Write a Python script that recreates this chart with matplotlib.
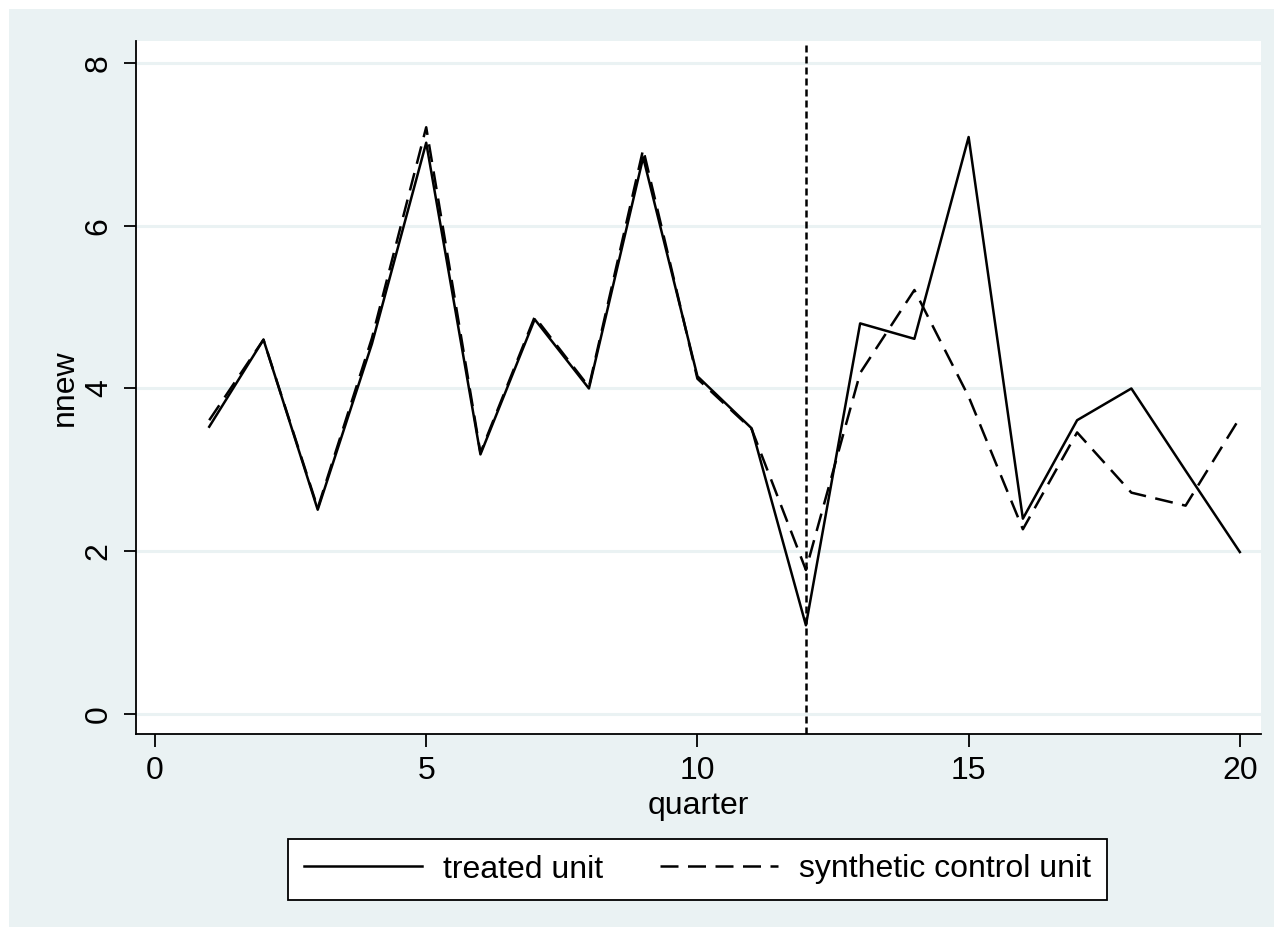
import numpy as np
import matplotlib
matplotlib.use("Agg")
import matplotlib.pyplot as plt
from matplotlib.patches import Rectangle

plt.rcParams['font.family'] = ['Liberation Sans', 'DejaVu Sans']

# outcome series, by quarter
quarter = list(range(1, 21))
treated = [3.53, 4.60, 2.51, 4.55, 7.02, 3.19, 4.85, 4.00, 6.84, 4.15,
           3.51, 1.09, 4.80, 4.61, 7.09, 2.40, 3.61, 4.00, 2.99, 1.99]
synthetic = [3.61, 4.60, 2.53, 4.62, 7.21, 3.21, 4.88, 4.02, 6.94, 4.12,
             3.50, 1.77, 4.19, 5.21, 3.90, 2.27, 3.46, 2.72, 2.56, 3.64]
treat_start = 12
xticks = [0, 5, 10, 15, 20]
yticks = [0, 2, 4, 6, 8]

W, H = 1283, 936
bg = '#EAF2F3'
fs = 23

fig = plt.figure(figsize=(W / 100, H / 100), dpi=100, facecolor='white')
fig.patches.append(Rectangle((9 / W, 9 / H), 1 - 18 / W, 1 - 18 / H,
                             transform=fig.transFigure, facecolor=bg,
                             edgecolor='none', zorder=-10))

ax = fig.add_axes([136 / W, 1 - 734 / H, 1125 / W, 693 / H])
ax.set_facecolor('white')

for y in yticks:
    ax.axhline(y, color=bg, lw=2.2, zorder=0)

ax.axvline(treat_start, color='black', lw=1.8, linestyle=(0, (2.8, 1.6)), zorder=1)

ax.plot(quarter, treated, color='black', lw=1.8, label='treated unit', zorder=3)
ax.plot(quarter, synthetic, color='black', lw=1.8, linestyle=(0, (7.2, 3.8)),
        label='synthetic control unit', zorder=2)

ax.set_xlim(-0.35, 20.39)
ax.set_ylim(-0.246, 8.27)
ax.set_xticks(xticks)
ax.set_yticks(yticks)

for s in ['top', 'right']:
    ax.spines[s].set_visible(False)
for s in ['left', 'bottom']:
    ax.spines[s].set_linewidth(1.3)
    ax.spines[s].set_color('black')

ax.tick_params(axis='both', direction='out', length=9, width=1.3,
               labelsize=fs, pad=7, colors='black')
for lab in ax.get_yticklabels():
    lab.set_rotation(90)
    lab.set_va('center')

ax.set_xlabel('quarter', fontsize=fs)
ax.set_ylabel('nnew', fontsize=fs)
ax.xaxis.set_label_coords(0.5, (734 - 806) / 693)
ax.xaxis.label.set_va('center')
ax.yaxis.set_label_coords((65 - 136) / 1125, 0.5)
ax.yaxis.label.set_va('center')

leg = fig.legend(loc='center', bbox_to_anchor=(697.5 / W, 1 - 869.5 / H),
                 ncol=2, fontsize=fs, frameon=True, fancybox=False,
                 edgecolor='black', facecolor='white', framealpha=1,
                 handlelength=3.7, handletextpad=0.66, columnspacing=1.75,
                 borderpad=0.5)
leg.get_frame().set_linewidth(1.3)

fig.savefig('out.png', dpi=100, facecolor='white')
